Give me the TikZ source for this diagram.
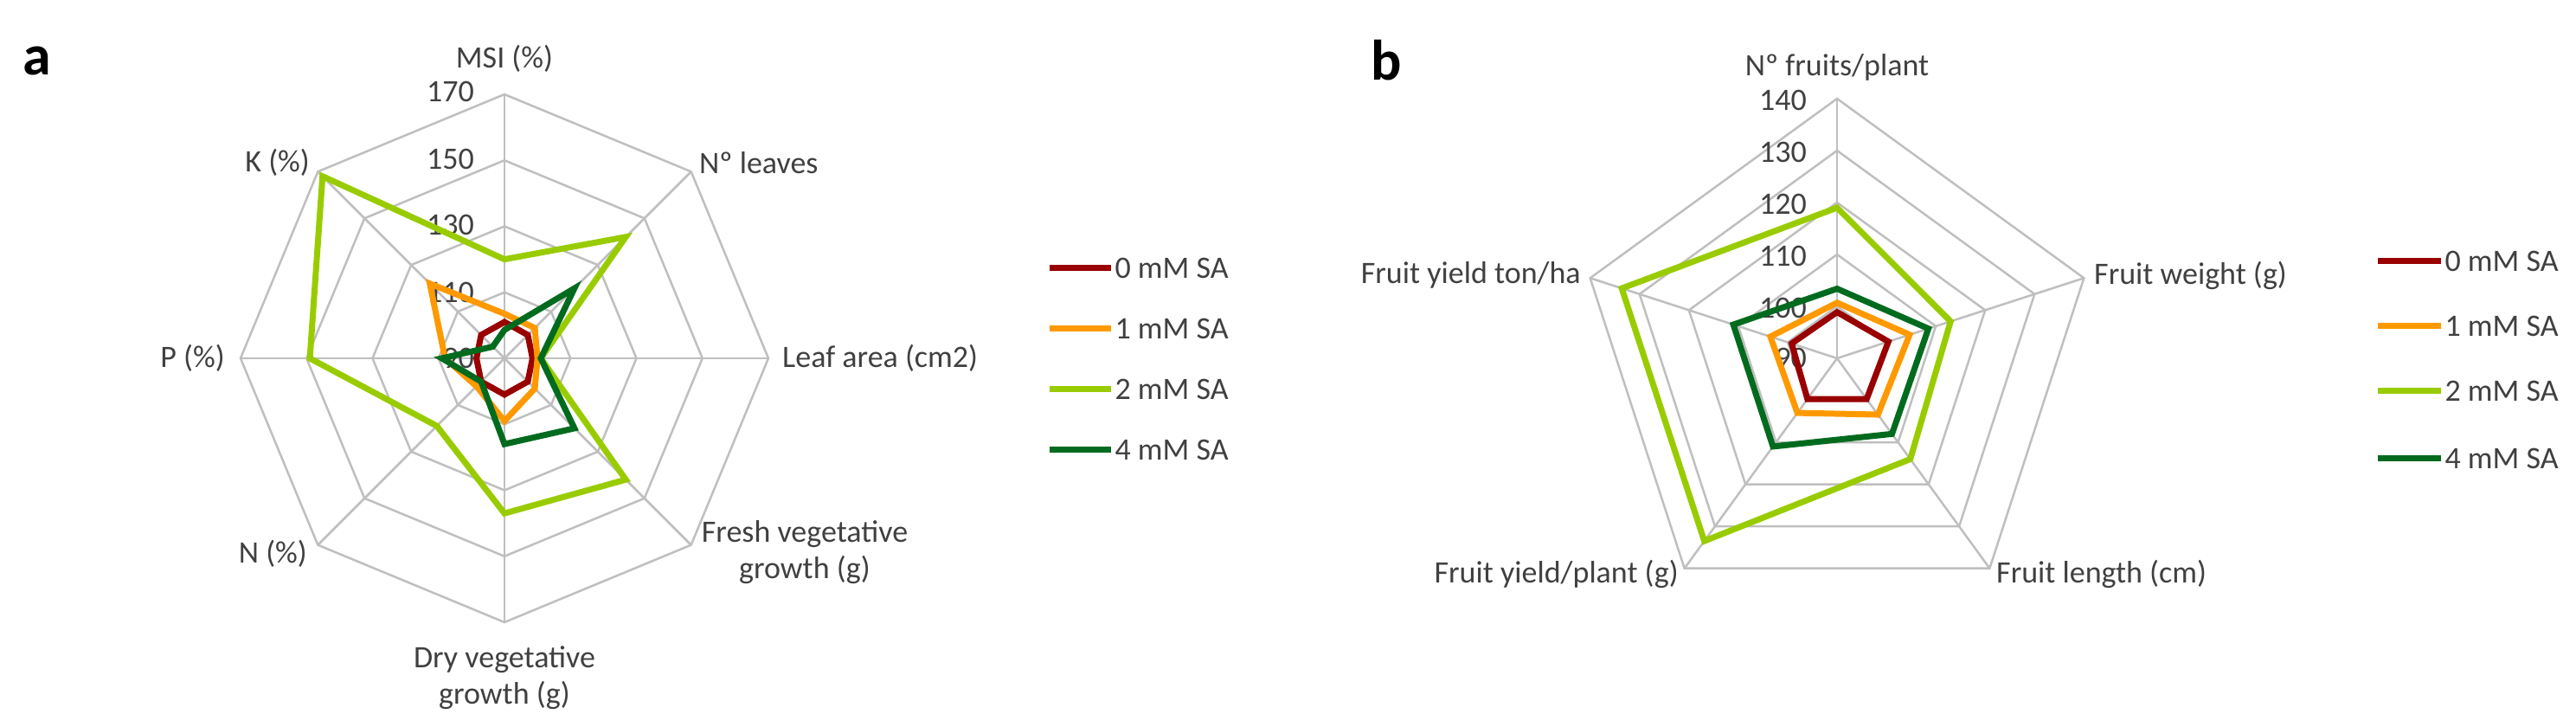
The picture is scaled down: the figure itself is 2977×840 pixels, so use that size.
\documentclass[tikz,border=0pt]{standalone}
\usepackage{fontspec}
\setmainfont{Carlito}
\definecolor{gridc}{HTML}{BFBFBF}
\definecolor{txt}{HTML}{404040}
\definecolor{c0}{HTML}{990000}
\definecolor{c1}{HTML}{FF9900}
\definecolor{c2}{HTML}{99CC00}
\definecolor{c4}{HTML}{006B1E}
\tikzset{
  grid/.style={draw=gridc, line width=2.5pt, line join=miter},
  ser/.style={line width=7pt, line join=miter},
  s0/.style={ser, draw=c0}, s1/.style={ser, draw=c1},
  s2/.style={ser, draw=c2}, s4/.style={ser, draw=c4},
  lab/.style={text=txt, font=\fontsize{36}{42}\selectfont, inner sep=2pt},
  tick/.style={lab, anchor=east},
  leg/.style={lab, anchor=west, inner sep=1pt},
  panel/.style={font=\fontsize{66}{70}\selectfont\bfseries, text=black}
}
\newcommand\ptA[2]{([shift={(ca)}]{90-45*#1}:{(#2-90)*3.8125})}
\newcommand\ptB[2]{([shift={(cb)}]{90-72*#1}:{(#2-90)*6})}
\begin{document}
\begin{tikzpicture}[x=1pt,y=1pt]
\useasboundingbox (0,0) rectangle (2977,840);
% ---------- panel a ----------
\coordinate (ca) at (583,426);
\foreach \r in {1,...,4}{
  \draw[grid] \ptA{0}{90+20*\r} \foreach \k in {1,...,7}{ -- \ptA{\k}{90+20*\r} } -- cycle;
}
\foreach \k in {0,...,7}{ \draw[grid] (ca) -- \ptA{\k}{170}; }
\node[panel] (pa) at (43,770) {a};
\node[tick] (t170) at (550,734) {170};
\node[tick] (t150) at (550,656) {150};
\node[tick] (t130) at (550,580) {130};
\node[tick] (t110) at (550,502) {110};
\node[tick] (t90) at (550,426) {90};
\draw[s0] \ptA{0}{101} -- \ptA{1}{100} -- \ptA{2}{98.5} -- \ptA{3}{100} -- \ptA{4}{101} -- \ptA{5}{100} -- \ptA{6}{98.5} -- \ptA{7}{100} -- cycle;
\draw[s1] \ptA{0}{103.5} -- \ptA{1}{103} -- \ptA{2}{100} -- \ptA{3}{103} -- \ptA{4}{109} -- \ptA{5}{102} -- \ptA{6}{108} -- \ptA{7}{122} -- cycle;
\draw[s2] \ptA{0}{120} -- \ptA{1}{142} -- \ptA{2}{101} -- \ptA{3}{142} -- \ptA{4}{137} -- \ptA{5}{119} -- \ptA{6}{149} -- \ptA{7}{168} -- cycle;
\draw[s4] \ptA{0}{98.6} -- \ptA{1}{120} -- \ptA{2}{101} -- \ptA{3}{120} -- \ptA{4}{116} -- \ptA{5}{100} -- \ptA{6}{109} -- \ptA{7}{95} -- cycle;
\node[lab] (msi) at (583,772) {MSI (\%)};
\node[lab, anchor=west] (nl) at (806,652) {Nº leaves};
\node[lab, anchor=east] (k) at (360,652) {K (\%)};
\node[lab, anchor=west] (la) at (902,426) {Leaf area (cm2)};
\node[lab, anchor=east] (p) at (262,426) {P (\%)};
\node[lab, align=center] (fv) at (930,202) {Fresh vegetative\\growth (g)};
\node[lab, anchor=east] (n) at (357,200) {N (\%)};
\node[lab, align=center] (dv) at (583,57) {Dry vegetative\\growth (g)};
\draw[s0] (1213,530) coordinate (la0) -- (1284,530) node[leg] (l0) {0 mM SA};
\draw[s1] (1213,460) coordinate (la1) -- (1284,460) node[leg] (l1) {1 mM SA};
\draw[s2] (1213,390) coordinate (la2) -- (1284,390) node[leg] (l2) {2 mM SA};
\draw[s4] (1213,320) coordinate (la4) -- (1284,320) node[leg] (l4) {4 mM SA};
% ---------- panel b ----------
\coordinate (cb) at (2123,426);
\foreach \r in {1,...,5}{
  \draw[grid] \ptB{0}{90+10*\r} \foreach \k in {1,...,4}{ -- \ptB{\k}{90+10*\r} } -- cycle;
}
\foreach \k in {0,...,4}{ \draw[grid] (cb) -- \ptB{\k}{140}; }
\node[panel] (pb) at (1602,770) {b};
\node[tick] (u140) at (2090,724) {140};
\node[tick] (u130) at (2090,664) {130};
\node[tick] (u120) at (2090,604) {120};
\node[tick] (u110) at (2090,544) {110};
\node[tick] (u100) at (2090,484) {100};
\node[tick] (u90) at (2090,426) {90};
\draw[s0] \ptB{0}{98.9} -- \ptB{1}{100.4} -- \ptB{2}{99.7} -- \ptB{3}{99.7} -- \ptB{4}{99.2} -- cycle;
\draw[s1] \ptB{0}{100.7} -- \ptB{1}{104.7} -- \ptB{2}{103.4} -- \ptB{3}{103} -- \ptB{4}{103.5} -- cycle;
\draw[s2] \ptB{0}{119} -- \ptB{1}{113} -- \ptB{2}{114} -- \ptB{3}{133.5} -- \ptB{4}{133.6} -- cycle;
\draw[s4] \ptB{0}{103.4} -- \ptB{1}{108.5} -- \ptB{2}{108} -- \ptB{3}{111} -- \ptB{4}{111} -- cycle;
\node[lab] (nf) at (2123,762) {Nº fruits/plant};
\node[lab, anchor=west] (fw) at (2418,522) {Fruit weight (g)};
\node[lab, anchor=east] (ft) at (1829,522) {Fruit yield ton/ha};
\node[lab, anchor=west] (fl) at (2305,177) {Fruit length (cm)};
\node[lab, anchor=east] (fp) at (1942,177) {Fruit yield/plant (g)};
\draw[s0] (2748,538) coordinate (lb0) -- (2821,538) node[leg] (m0) {0 mM SA};
\draw[s1] (2748,463) coordinate (lb1) -- (2821,463) node[leg] (m1) {1 mM SA};
\draw[s2] (2748,388) coordinate (lb2) -- (2821,388) node[leg] (m2) {2 mM SA};
\draw[s4] (2748,310) coordinate (lb4) -- (2821,310) node[leg] (m4) {4 mM SA};
\end{tikzpicture}
\end{document}
